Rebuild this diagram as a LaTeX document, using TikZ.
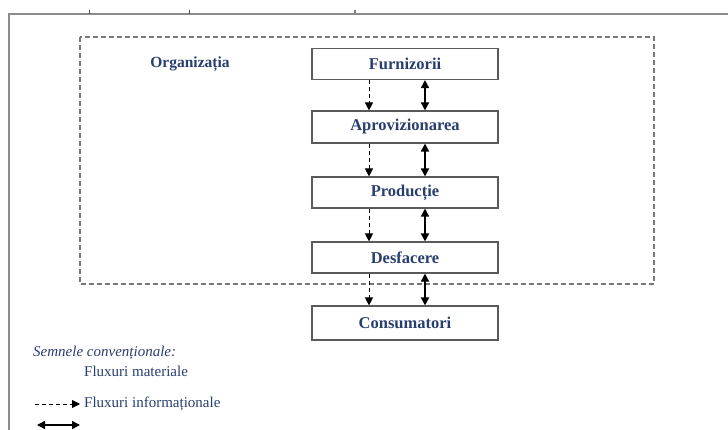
\documentclass[tikz,border=0pt]{standalone}
\usepackage{fontspec}
\setmainfont{Liberation Serif}
\usetikzlibrary{arrows.meta}
\definecolor{txtblue}{RGB}{40,62,110}
\definecolor{framegray}{RGB}{140,140,140}
\definecolor{boxgray}{RGB}{90,90,90}
\begin{document}
\begin{tikzpicture}[x=1pt,y=-1pt,
  stage/.style={draw=boxgray, line width=1.1pt, minimum width=186pt, minimum height=31pt, inner sep=0pt,
    font=\fontsize{16.5}{19}\selectfont\bfseries, text=txtblue},
  info/.style={dash pattern=on 4pt off 3pt, line width=0.9pt, -{Triangle[length=8pt,width=8pt]}},
  mat/.style={line width=1.5pt, {Triangle[length=8pt,width=8pt]}-{Triangle[length=8pt,width=8pt]}},
  legtext/.style={anchor=west, inner sep=0pt, text=txtblue, font=\fontsize{15}{17}\selectfont}]
\useasboundingbox (0,0) rectangle (728,430);
% outer frame
\draw[framegray, line width=1.8pt] (9,432) -- (9,14) -- (730,14);
\draw[black!70, line width=1pt] (89,10) -- (89,14);
\draw[black!70, line width=1pt] (189,10) -- (189,14);
\draw[black!50, line width=2pt] (355,10) -- (355,14);
% organisation boundary
\draw[framegray!85!black, line width=1.2pt, dash pattern=on 5pt off 3pt] (80,37) rectangle (654,284);
\node[anchor=center, font=\fontsize{15.5}{18}\selectfont\bfseries, text=txtblue] (org) at (190,64) {Organizația};
% stages
\node[stage] (f) at (405,64) {Furnizorii};
\node[stage, minimum height=32pt] (a) at (405,127) {Aprovizionarea};
\node[stage] (p) at (405,192.5) {Producție};
\node[stage] (d) at (405,257.5) {Desfacere};
\node[stage, minimum height=34pt] (c) at (405,323) {Consumatori};
% connectors
\foreach \u/\l in {f/a, a/p, p/d, d/c}{
  \draw[info] ([xshift=-36pt]\u.south) -- ([xshift=-36pt]\l.north);
  \draw[mat] ([xshift=20pt]\u.south) -- ([xshift=20pt]\l.north);
}
% legend
\node[legtext, font=\fontsize{15}{17}\selectfont\itshape] (sem) at (33,353) {Semnele convenționale:};
\node[legtext] (fm) at (84,371) {Fluxuri materiale};
\coordinate (l1a) at (35,404);
\coordinate (l1b) at (80,404);
\draw[info] (l1a) -- (l1b);
\node[legtext] (fi) at (84,404) {Fluxuri informaționale};
\coordinate (l2a) at (37,425);
\coordinate (l2b) at (80,425);
\draw[mat] (l2a) -- (l2b);
\end{tikzpicture}
\end{document}
